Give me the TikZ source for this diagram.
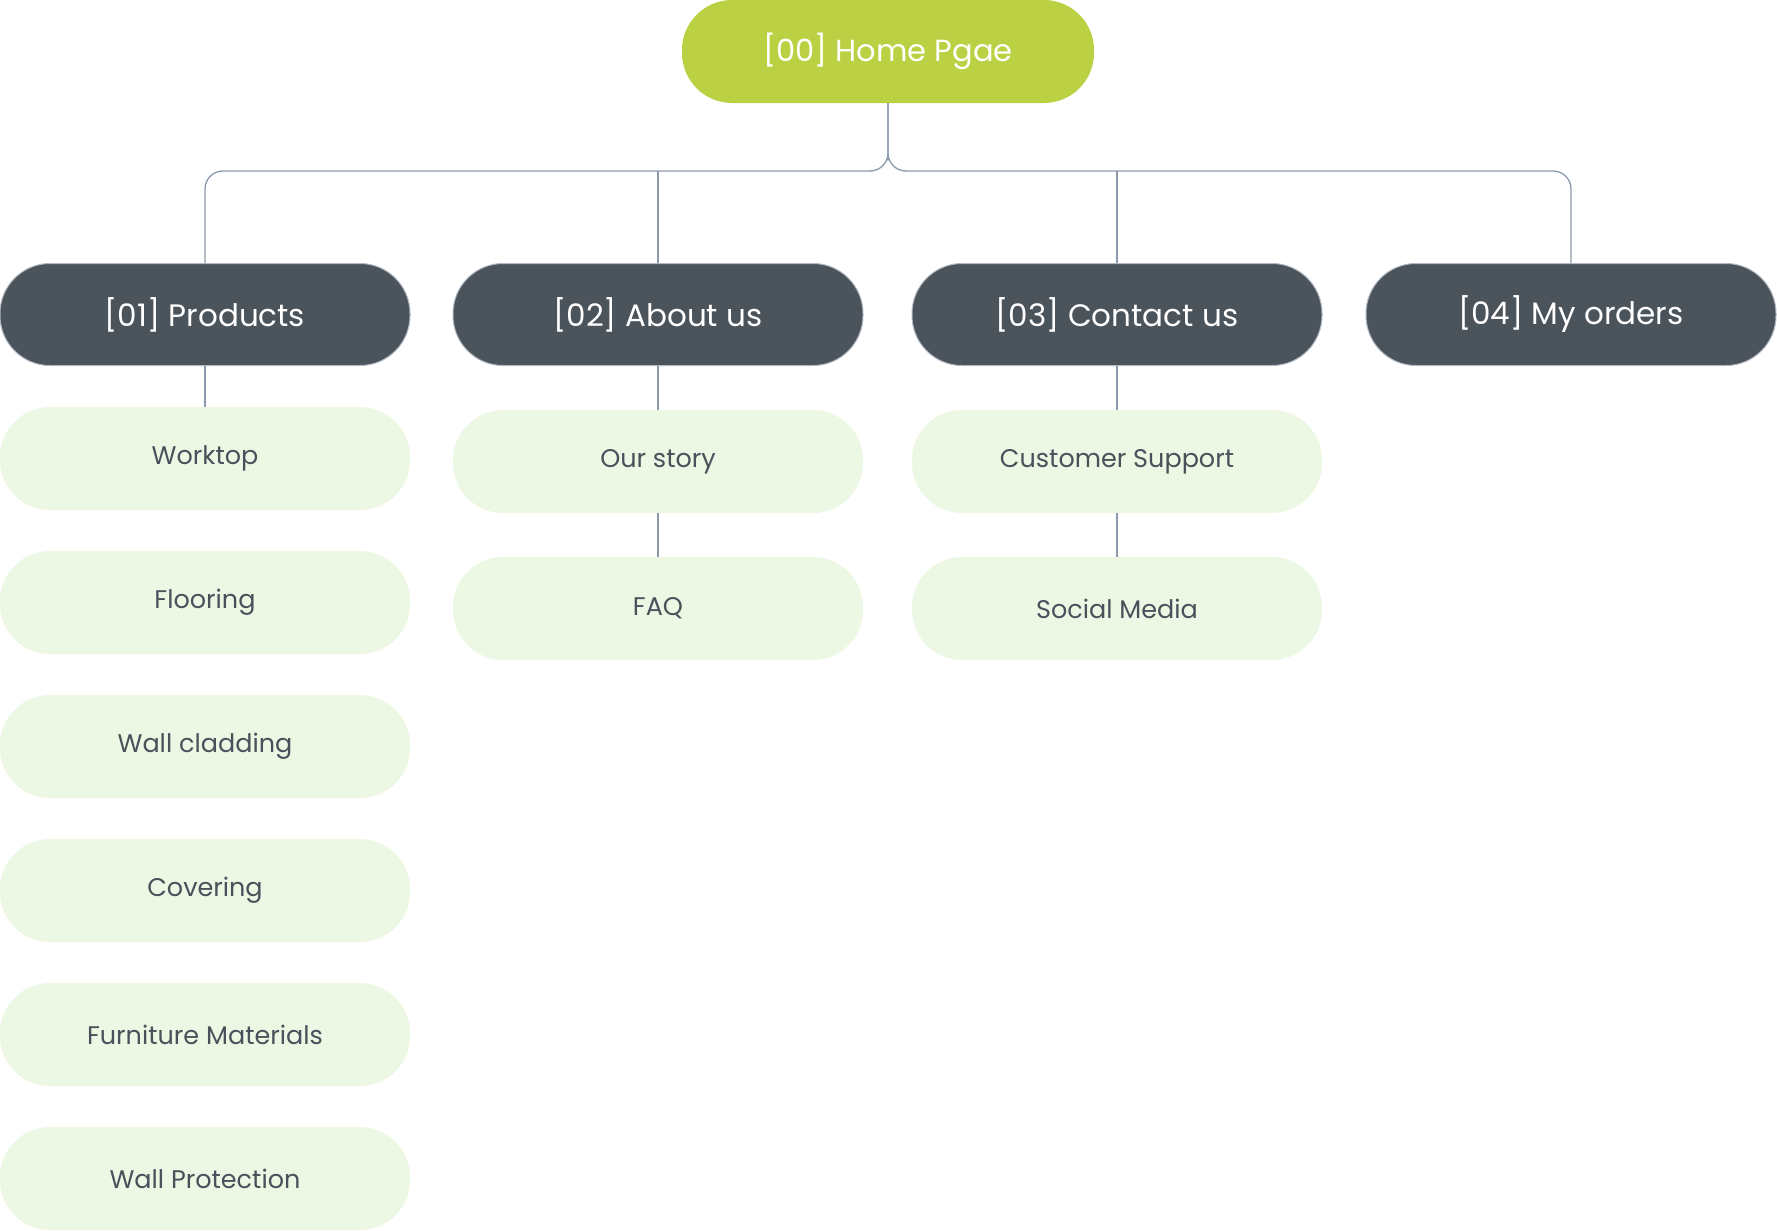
\documentclass[tikz,border=0pt]{standalone}
\usepackage{fontspec}
\setmainfont{Poppins}
\usetikzlibrary{positioning}
\definecolor{homegreen}{HTML}{BBD042}
\definecolor{slate}{HTML}{4B535B}
\definecolor{mint}{HTML}{ECF7E4}
\definecolor{wire}{HTML}{8C99AB}
\definecolor{inktext}{HTML}{49515A}
\begin{document}
\begin{tikzpicture}[x=1pt,y=-1pt]
    \tikzstyle{pill}=[rectangle,rounded corners=50pt,minimum width=410pt,minimum height=102pt,inner sep=0pt]
    \tikzstyle{home page}=[pill, fill=homegreen, text=white, minimum width=412pt, minimum height=103pt, font=\fontsize{30.5}{36}\selectfont]
    \tikzstyle{section}=[pill, fill=slate, draw=wire!70, line width=1pt, text=white, font=\fontsize{31}{36}\selectfont]
    \tikzstyle{subpage}=[pill, fill=mint, text=inktext, minimum height=103pt, font=\fontsize{25.5}{30}\selectfont]
    \tikzstyle{link}=[draw=wire, line width=1.3pt, rounded corners=18pt]

    \useasboundingbox (0,0) rectangle (1777,1231);

    % Home page
    \node[home page] (home) at (888,51.5) {[00] Home Pgae};
    \coordinate (hub) at (888,171);

    % Sections
    \foreach \name / \x / \txt in {1/205/Products,2/658/About us,3/1117/Contact us,4/1571/My orders}
        \node[section] (S-\name) at (\x,314.5) {[0\name] \txt};

    % Pages under Products
    \foreach \name / \y / \txt in {1/458.5/Worktop,2/602.5/Flooring,3/746.5/Wall cladding,
        4/890.5/Covering,5/1034.5/Furniture Materials,6/1178.5/Wall Protection}
        \node[subpage] (P-\name) at (205,\y) {\txt};

    % Pages under About us
    \node[subpage] (A-1) at (658,461.5) {Our story};
    \node[subpage] (A-2) at (658,608.5) {FAQ};

    % Pages under Contact us
    \node[subpage] (C-1) at (1117,461.5) {Customer Support};
    \node[subpage] (C-2) at (1117,608.5) {Social Media};

    % Home to the sections
    \path[link] (home.south) |- (hub) -| (S-1.north);
    \path[link] (home.south) |- (hub) -| (S-4.north);
    \path[link] (S-2.north) -- (S-2.north |- hub);
    \path[link] (S-3.north) -- (S-3.north |- hub);

    % Sections to their pages
    \path[link] (S-1) -- (P-1);
    \path[link] (S-2) -- (A-1);
    \path[link] (A-1) -- (A-2);
    \path[link] (S-3) -- (C-1);
    \path[link] (C-1) -- (C-2);
\end{tikzpicture}
\end{document}
